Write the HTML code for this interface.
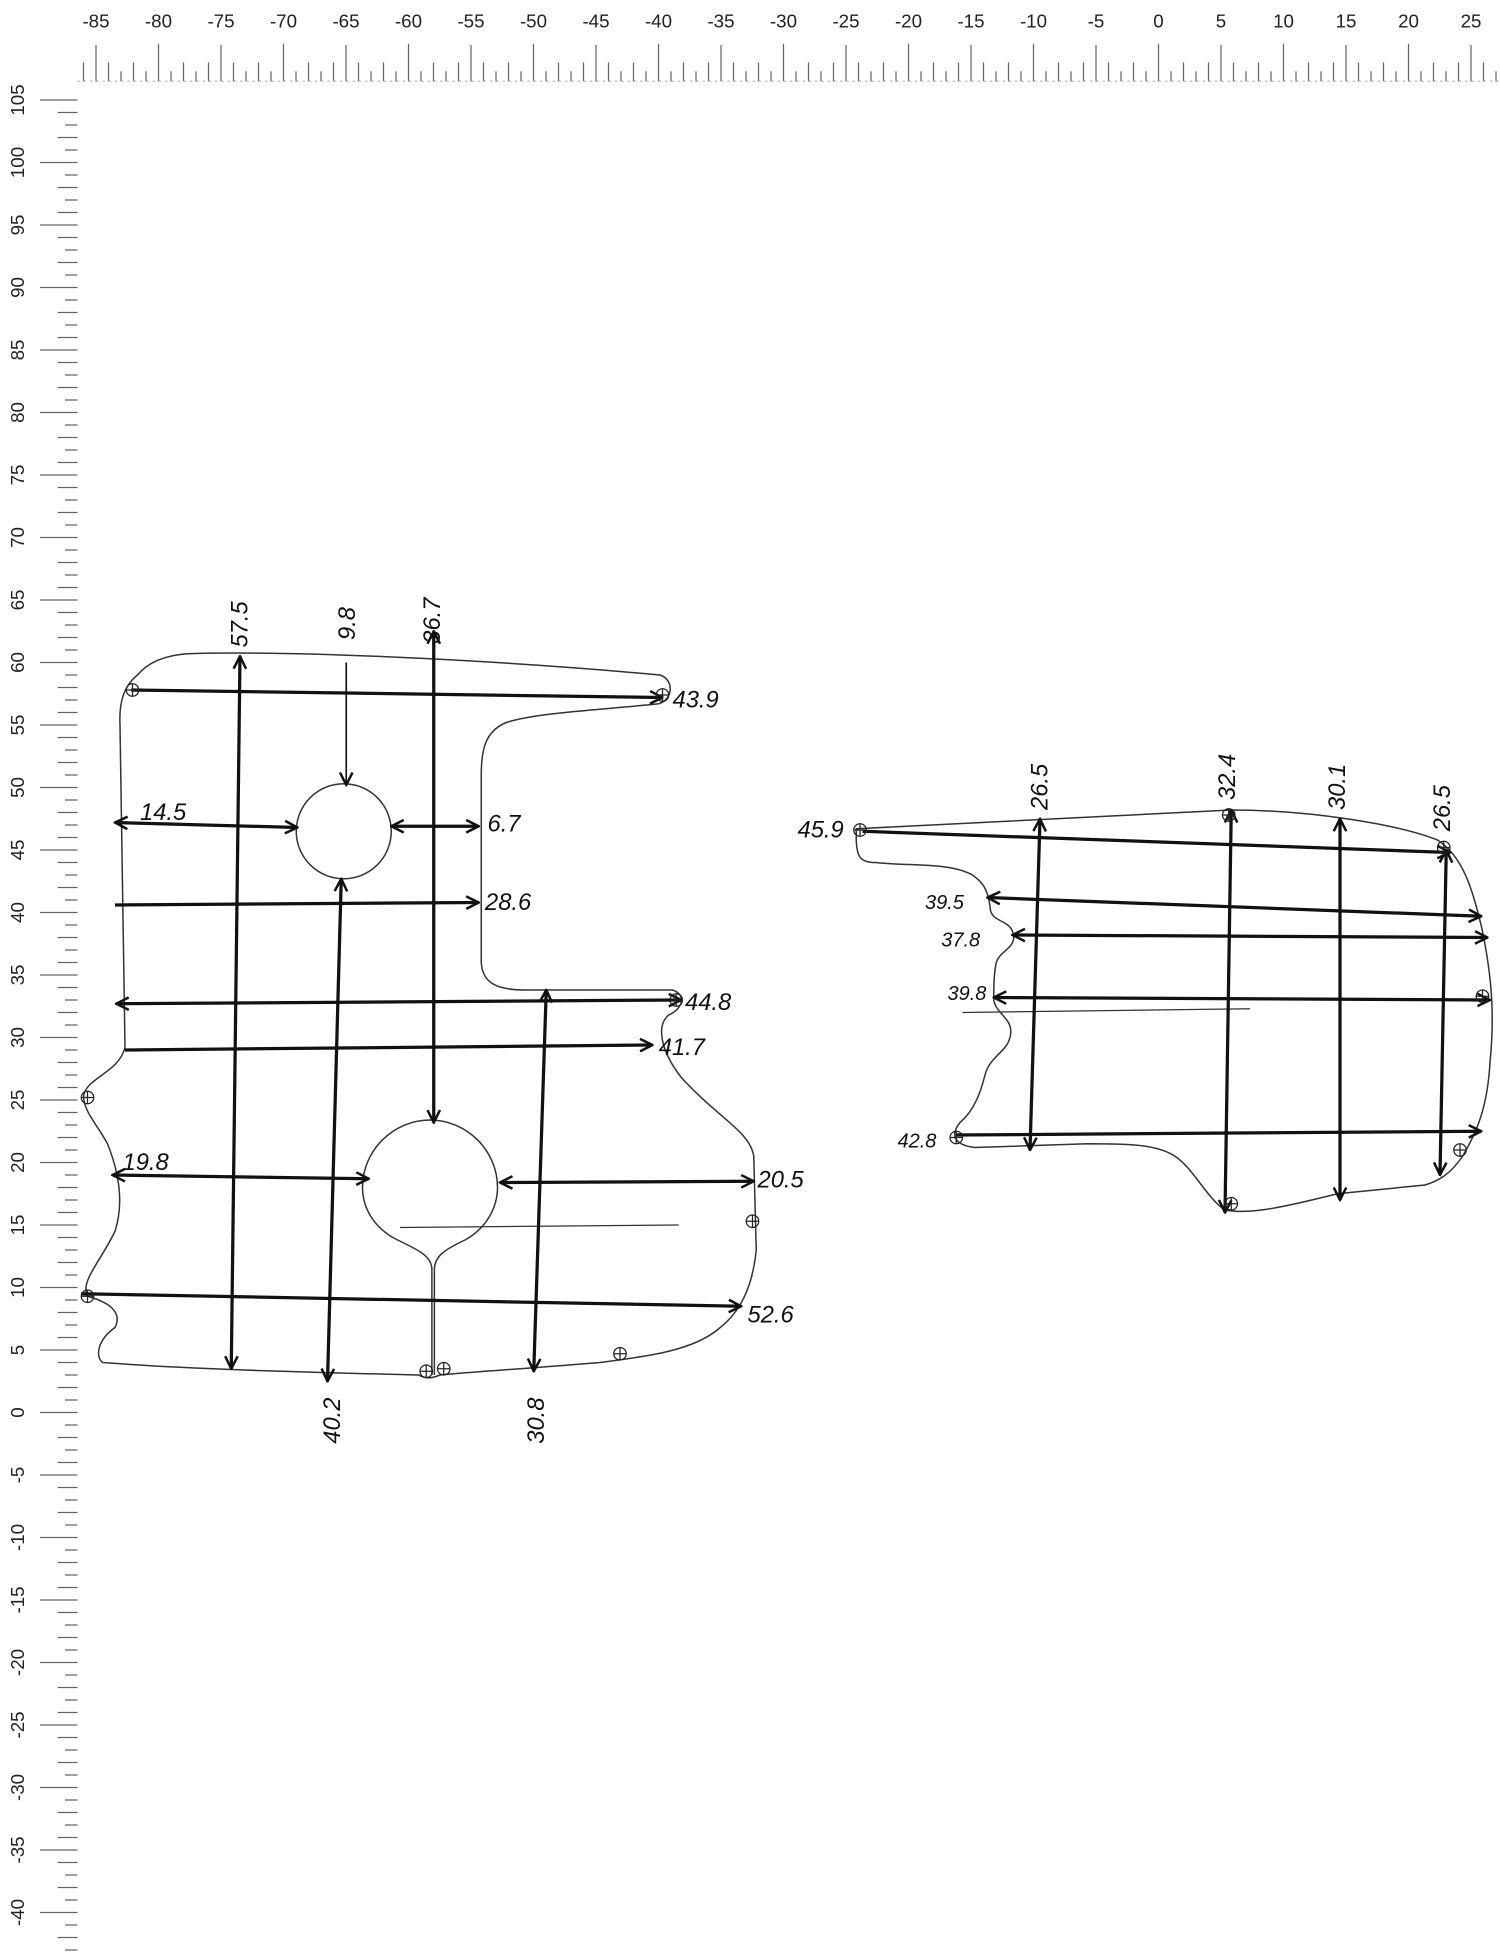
<!DOCTYPE html>
<html><head><meta charset="utf-8"><style>
html,body{margin:0;padding:0;background:#fff;}
svg{display:block;}
.l{font-family:"Liberation Sans",sans-serif;font-style:italic;font-size:19px;fill:#111;}
.r{font-family:"Liberation Sans",sans-serif;font-size:15px;fill:#222;}
</style></head><body>
<svg id="s" xmlns="http://www.w3.org/2000/svg" width="1500" height="1954" viewBox="0 0 1200 1563.2">
<defs>
<marker id="a" viewBox="0 0 12 12" refX="11" refY="6" markerWidth="12" markerHeight="12" markerUnits="userSpaceOnUse" orient="auto-start-reverse">
<path d="M1,1 L11,6 L1,11" fill="none" stroke="#111" stroke-width="2"/></marker>
<g id="h"><circle r="5" fill="none" stroke="#222" stroke-width="1"/><path d="M-5,0H5M0,-5V5" stroke="#222" stroke-width="1"/></g>
</defs>
<g id="ruler" stroke="#666" stroke-width="1"></g>
<g id="rl"></g>

<!-- left body -->
<g fill="none" stroke="#333" stroke-width="1.2">
<path d="M150,523 C250,520 420,530 528,540 C540,544 538,560 527,563 C480,568 430,570 405,578 C388,585 385,600 385,620 L385,770 C386,785 395,792 420,792 L538,792 C548,795 548,806 535,812 C525,820 528,840 545,862 C575,895 600,905 603,925 L605,1000 C602,1030 592,1050 575,1063 C555,1080 520,1085 480,1090 C420,1095 370,1098 352,1100 C345,1103 340,1103 335,1100 C260,1098 160,1096 82,1090 C76,1085 78,1072 92,1062 C98,1050 88,1042 70,1037 C64,1025 80,1010 92,985 C100,960 94,935 86,915 C78,900 66,888 67,876 C70,862 95,858 100,838 L96,580 C95,560 100,548 110,540 C120,528 135,524 150,523 Z"/>
<circle cx="275" cy="665" r="38"/>
<path d="M345.5,1100 L345.5,1015 C345,1005 335,1000 318,992 C298,982 290,965 290,950 C290,920 315,896 344,896 C373,896 398,920 398,950 C398,965 390,982 372,992 C355,1000 348,1005 347.5,1015 L347.5,1100"/>
<path d="M320,982 L543,980" stroke-width="1"/>
</g>
<!-- right body -->
<g fill="none" stroke="#333" stroke-width="1.2">
<path d="M685,663 L985,648 C1050,648 1120,660 1150,672 C1170,685 1178,710 1186,745 C1193,780 1196,810 1192,850 C1190,885 1182,905 1170,925 C1160,940 1150,945 1140,948 L1070,955 C1030,965 1000,972 980,968 C965,958 955,935 940,925 C925,915 900,915 870,915 L780,918 C763,916 760,908 768,898 C780,888 785,872 788,860 C792,845 805,842 808,830 C812,815 797,812 795,800 C795,790 795,780 797,770 C800,760 815,758 810,745 C806,735 792,738 792,725 C790,710 785,705 778,700 C760,690 730,693 700,690 C688,690 685,685 685,670 Z"/>
<path d="M770,810 L1000,807" stroke-width="1"/>
</g>

<g stroke="#111" stroke-width="2.6" fill="none" marker-end="url(#a)">
<path d="M105,552 L530,558"/>
<path d="M192,525 L185,1095" marker-start="url(#a)"/>
<path d="M277,530 L277,628" stroke-width="1.3"/>
<path d="M347,505 L347,898" marker-start="url(#a)"/>
<path d="M92,658 L238,662" marker-start="url(#a)"/>
<path d="M313,661 L383,661" marker-start="url(#a)"/>
<path d="M92,724 L383,722"/>
<path d="M273,703 L262,1105" marker-start="url(#a)"/>
<path d="M93,803 L545,800" marker-start="url(#a)"/>
<path d="M100,840 L522,836"/>
<path d="M90,940 L295,943" marker-start="url(#a)"/>
<path d="M400,946 L603,945" marker-start="url(#a)"/>
<path d="M437,792 L427,1097" marker-start="url(#a)"/>
<path d="M65,1035 L593,1045"/>
<path d="M690,665 L1160,682"/>
<path d="M790,718 L1185,733" marker-start="url(#a)"/>
<path d="M810,748 L1190,750" marker-start="url(#a)"/>
<path d="M795,798 L1192,800" marker-start="url(#a)"/>
<path d="M765,908 L1185,905"/>
<path d="M832,655 L824,920" marker-start="url(#a)"/>
<path d="M985,648 L980,970" marker-start="url(#a)"/>
<path d="M1072,655 L1072,960" marker-start="url(#a)"/>
<path d="M1157,680 L1152,940" marker-start="url(#a)"/>
</g>

<g>
<use href="#h" x="106" y="552"/><use href="#h" x="530" y="556"/><use href="#h" x="541" y="800"/>
<use href="#h" x="70" y="878"/><use href="#h" x="70" y="1037"/><use href="#h" x="602" y="977"/>
<use href="#h" x="496" y="1083"/><use href="#h" x="341" y="1097"/><use href="#h" x="355" y="1095"/>
<use href="#h" x="688" y="664"/><use href="#h" x="765" y="910"/><use href="#h" x="983" y="652"/>
<use href="#h" x="985" y="963"/><use href="#h" x="1155" y="678"/><use href="#h" x="1168" y="920"/><use href="#h" x="1186" y="797"/>
</g>

<g class="l">
<text x="538" y="566">43.9</text>
<text x="112" y="656">14.5</text>
<text x="390" y="665">6.7</text>
<text x="388" y="728">28.6</text>
<text x="548" y="808">44.8</text>
<text x="527" y="844">41.7</text>
<text x="98" y="936">19.8</text>
<text x="606" y="950">20.5</text>
<text x="598" y="1058">52.6</text>
<text transform="translate(198,518) rotate(-90)">57.5</text>
<text transform="translate(284,512) rotate(-90)">9.8</text>
<text transform="translate(352,515) rotate(-90)">36.7</text>
<text transform="translate(272,1155) rotate(-90)">40.2</text>
<text transform="translate(435,1155) rotate(-90)">30.8</text>
<text x="638" y="670">45.9</text>
<text x="740" y="727" font-size="16">39.5</text>
<text x="753" y="757" font-size="16">37.8</text>
<text x="758" y="800" font-size="16">39.8</text>
<text x="718" y="918" font-size="16">42.8</text>
<text transform="translate(838,648) rotate(-90)">26.5</text>
<text transform="translate(988,640) rotate(-90)">32.4</text>
<text transform="translate(1076,648) rotate(-90)">30.1</text>
<text transform="translate(1160,665) rotate(-90)">26.5</text>
</g>
</svg>
<script>
var ns="http://www.w3.org/2000/svg",g=document.getElementById("ruler"),t=document.getElementById("rl");
function ln(x1,y1,x2,y2,c){var e=document.createElementNS(ns,"line");e.setAttribute("x1",x1);e.setAttribute("y1",y1);e.setAttribute("x2",x2);e.setAttribute("y2",y2);if(c)e.setAttribute("style",c);g.appendChild(e);}
function tx(x,y,s,rot){var e=document.createElementNS(ns,"text");e.setAttribute("class","r");e.setAttribute("text-anchor","middle");if(rot){e.setAttribute("transform","translate("+x+","+y+") rotate(-90)");}else{e.setAttribute("x",x);e.setAttribute("y",y);}e.textContent=s;t.appendChild(e);}
ln(62,65,1200,65,"stroke:#bbb;stroke-dasharray:2 3");
for(var v=-87;v<=28;v++){var x=926.8+10*v;if(x<62)continue;var m=((v%5)+5)%5==0;var m10=((v%10)+10)%10==0;
ln(x,65,x,m?(m10?35:36):(((v%2)+2)%2==0?50:57));if(m)tx(x,22,String(v));}
for(var v=105;v>=-43;v--){var y=1130-10*v;var m=((v%5)+5)%5==0;ln(62,y,m?32:(((v%2)+2)%2==0?46:52),y);if(m)tx(19,y,String(v),true);}
</script>
</body></html>
